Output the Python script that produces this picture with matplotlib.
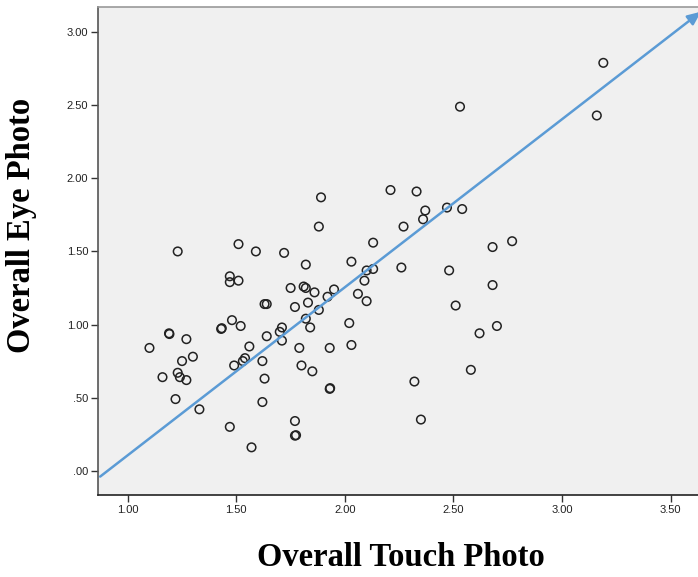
#!/usr/bin/env python3
import matplotlib
matplotlib.use("Agg")
import matplotlib.pyplot as plt

# Overall Touch Photo (x) vs Overall Eye Photo (y)
touch = [3.19, 3.16, 2.53, 1.89, 1.88, 2.21, 2.33, 2.47, 2.54, 2.37,
         2.36, 2.27, 2.13, 2.77, 2.68, 1.23, 1.51, 1.59, 1.72, 2.03,
         1.82, 2.10, 2.13, 2.26, 2.48, 1.47, 1.47, 1.51, 2.09, 1.75,
         1.81, 1.82, 1.86, 1.95, 1.92, 2.06, 2.10, 1.63, 1.64, 1.77,
         1.83, 1.88, 2.68, 2.51, 1.82, 1.84, 1.71, 1.70, 1.71, 1.64,
         2.02, 2.03, 1.93, 1.79, 1.80, 1.85, 1.93, 1.932, 1.62, 1.63,
         1.62, 1.77, 1.77, 1.775, 1.57, 1.47, 1.49, 1.53, 1.54, 1.56,
         1.52, 1.48, 1.43, 1.433, 1.19, 1.192, 1.27, 1.10, 1.30, 1.25,
         1.16, 1.23, 1.24, 1.27, 1.22, 1.33, 2.62, 2.70, 2.58, 2.32,
         2.35]
eye = [2.79, 2.43, 2.49, 1.87, 1.67, 1.92, 1.91, 1.80, 1.79, 1.78,
       1.72, 1.67, 1.56, 1.57, 1.53, 1.50, 1.55, 1.50, 1.49, 1.43,
       1.41, 1.37, 1.38, 1.39, 1.37, 1.33, 1.29, 1.30, 1.30, 1.25,
       1.26, 1.25, 1.22, 1.24, 1.19, 1.21, 1.16, 1.14, 1.14, 1.12,
       1.15, 1.10, 1.27, 1.13, 1.04, 0.98, 0.98, 0.95, 0.89, 0.92,
       1.01, 0.86, 0.84, 0.84, 0.72, 0.68, 0.56, 0.565, 0.75, 0.63,
       0.47, 0.34, 0.24, 0.243, 0.16, 0.30, 0.72, 0.75, 0.77, 0.85,
       0.99, 1.03, 0.97, 0.975, 0.94, 0.935, 0.90, 0.84, 0.78, 0.75,
       0.64, 0.67, 0.64, 0.62, 0.49, 0.42, 0.94, 0.99, 0.69, 0.61,
       0.35]

# hand drawn trend arrow (start, end) in data units
arrow_start = (0.873, -0.04)
arrow_end = (3.64, 3.14)

xticks = [1.0, 1.5, 2.0, 2.5, 3.0, 3.5]
xtick_labels = ["1.00", "1.50", "2.00", "2.50", "3.00", "3.50"]
yticks = [0.0, 0.5, 1.0, 1.5, 2.0, 2.5, 3.0]
ytick_labels = [".00", ".50", "1.00", "1.50", "2.00", "2.50", "3.00"]


def main():
    fig = plt.figure(figsize=(6.98, 5.77), dpi=100)
    ax = fig.add_axes([98 / 698, 82 / 577, 1 - 98 / 698, 488 / 577])
    ax.set_facecolor("#f0f0f0")

    ax.scatter(touch, eye, s=38, facecolors="none", edgecolors="#222222",
               linewidths=1.1, zorder=3)

    # the arrow tip sits just past the right edge, so don't let it get clipped away
    ax.annotate(
        "", xy=arrow_end, xytext=arrow_start, annotation_clip=False,
        arrowprops=dict(arrowstyle="-|>,head_length=0.8,head_width=0.35",
                        color="#5b9bd5", lw=1.8, shrinkA=0, shrinkB=0),
        zorder=4,
    )

    ax.set_xlim(0.863, 3.626)
    ax.set_ylim(-0.166, 3.172)

    ax.set_xticks(xticks)
    ax.set_xticklabels(xtick_labels)
    ax.set_yticks(yticks)
    ax.set_yticklabels(ytick_labels)
    ax.tick_params(axis="both", direction="out", length=5, width=1,
                   pad=2, labelsize=8, colors="#333333",
                   labelcolor="#222222")
    for lab in ax.get_xticklabels() + ax.get_yticklabels():
        lab.set_family("Liberation Sans")

    ax.spines["right"].set_visible(False)
    ax.spines["top"].set_color("#999999")
    ax.spines["top"].set_linewidth(1.2)
    ax.spines["left"].set_color("#555555")
    ax.spines["left"].set_linewidth(1.2)
    ax.spines["bottom"].set_color("#222222")
    ax.spines["bottom"].set_linewidth(1.2)

    fig.text(22 / 698, 1 - 225 / 577, "Overall Eye Photo", rotation=90,
             ha="center", va="center", family="Liberation Serif",
             fontweight="bold", fontsize=23.5)
    fig.text(401 / 698, 1 - 558 / 577, "Overall Touch Photo",
             ha="center", va="center", family="Liberation Serif",
             fontweight="bold", fontsize=23.5)

    fig.savefig("out.png", dpi=100)


if __name__ == "__main__":
    main()
